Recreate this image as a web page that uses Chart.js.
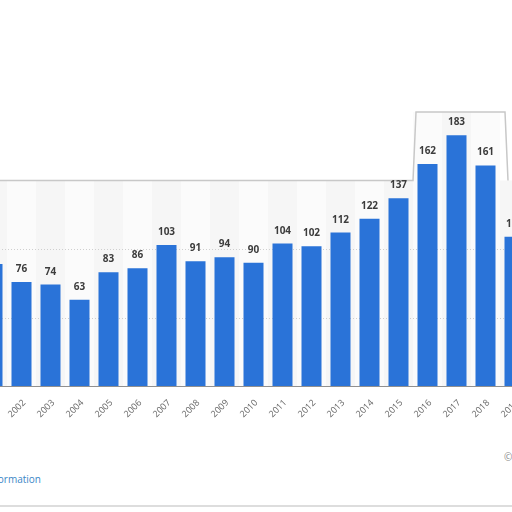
<!DOCTYPE html>
<html>
<head>
<meta charset="utf-8">
<script src="https://cdn.jsdelivr.net/npm/chart.js@4"></script>
<style>
  html, body { margin: 0; padding: 0; width: 512px; height: 512px; overflow: hidden; background: #fff; }
  #wrap { position: absolute; left: -22.5px; top: 0; width: 551px; height: 426px; }
  .note { position: absolute; font-family: "Open Sans", sans-serif; font-size: 10px; white-space: nowrap; }
  #info { left: -100px; width: 141px; text-align: right; top: 472px; color: #3b86c6; }
  #copy { left: 504px; top: 450px; color: #888; }
  #foot { position: absolute; left: 0; right: 0; top: 505px; height: 2px; background: #ddd; }
  .yr { position: absolute; width: 40px; height: 12px; line-height: 12px; text-align: right;
        font-family: "Open Sans", sans-serif; font-size: 9px; color: #666;
        transform-origin: 100% 50%; transform: rotate(-45deg); white-space: nowrap; }
</style>
</head>
<body>
<div id="wrap"><canvas id="myBarChart"></canvas></div>
<div class="note" id="info">Additional Information</div>
<div class="note" id="copy">© Statista 2021</div>
<div id="foot"></div>
<script>
const years = ["2001", "2002", "2003", "2004", "2005", "2006", "2007", "2008", "2009", "2010",
  "2011", "2012", "2013", "2014", "2015", "2016", "2017", "2018", "2019"];
const values = [89, 76, 74, 63, 83, 86, 103, 91, 94, 90, 104, 102, 112, 122, 137, 162, 183, 161, 109];
const gridTicks = [0, 50, 100, 150, 200];

// column stripes + box edge behind the bars, value labels on top
const backdrop = {
  id: "backdrop",
  beforeDatasetsDraw(chart) {
    const ctx = chart.ctx;
    const x = chart.scales.x, y = chart.scales.y;
    const w = x.getPixelForValue(1) - x.getPixelForValue(0);
    const yLow = y.getPixelForValue(150), yHigh = y.getPixelForValue(200), y0 = y.getPixelForValue(0);
    ctx.save();
    for (let i = 0; i < years.length; i++) {
      const top = (i >= 15 && i <= 17) ? yHigh : yLow;
      const cx = x.getPixelForValue(i);
      ctx.fillStyle = i % 2 ? "#fbfbfb" : "#f6f6f6";
      ctx.fillRect(cx - w / 2, top, w, y0 - top);
    }
    // box outline (top edge, stepping up over 2016-2018)
    const bx = x.getPixelForValue(15) - w / 2;
    const ex = x.getPixelForValue(17) + w / 2 + 5;
    ctx.strokeStyle = "#c8c8c8";
    ctx.lineWidth = 1.5;
    ctx.beginPath();
    ctx.moveTo(0, yLow);
    ctx.lineTo(bx, yLow);
    ctx.lineTo(bx + 3, yHigh);
    ctx.lineTo(ex, yHigh);
    ctx.lineTo(ex + 3, yLow);
    ctx.stroke();
    // dotted gridlines
    ctx.strokeStyle = "#cfcfcf";
    ctx.lineWidth = 1;
    ctx.setLineDash([1, 2]);
    [50, 100].forEach((v) => {
      const gy = Math.round(y.getPixelForValue(v)) + 0.5;
      ctx.beginPath();
      ctx.moveTo(0, gy);
      ctx.lineTo(chart.width, gy);
      ctx.stroke();
    });
    ctx.restore();
  },
  afterDatasetsDraw(chart) {
    const ctx = chart.ctx;
    const bars = chart.getDatasetMeta(0).data;
    ctx.save();
    ctx.font = "bold 10px 'Open Sans', sans-serif";
    ctx.fillStyle = "#3c3c3c";
    ctx.textAlign = "center";
    ctx.textBaseline = "alphabetic";
    bars.forEach((bar, i) => {
      ctx.fillText(values[i], bar.x, bar.y - 10);
    });
    ctx.restore();
  }
};

const chart = new Chart(document.getElementById("myBarChart"), {
  type: "bar",
  data: {
    labels: years,
    datasets: [
      {
        data: values,
        backgroundColor: "#2a73d8",
        categoryPercentage: 1,
        barPercentage: 0.69,
      },
    ],
  },
  options: {
    responsive: true,
    maintainAspectRatio: false,
    animation: false,
    layout: { padding: { top: 112, left: 0, right: 0, bottom: 0 } },
    plugins: { legend: { display: false }, tooltip: { enabled: false } },
    scales: {
      x: {
        grid: { display: false },
        border: { display: true, color: "#222", width: 1.5 },
        ticks: { display: false },
        afterFit: (s) => { s.height = 40; },
      },
      y: {
        min: 0,
        max: 200,
        afterBuildTicks: (s) => { s.ticks = gridTicks.map((v) => ({ value: v })); },
        grid: { display: false },
        border: { display: false },
        ticks: { display: false },
        afterFit: (s) => { s.width = 0; },
      },
    },
  },
  plugins: [backdrop],
});

// rotated year labels as html, placed from the x scale
const wrap = document.getElementById("wrap");
const xs = chart.scales.x, ys = chart.scales.y;
years.forEach((yr, i) => {
  const el = document.createElement("div");
  el.className = "yr";
  el.textContent = yr;
  const ax = xs.getPixelForValue(i) + 3;
  const ay = ys.getPixelForValue(0) + 15;
  el.style.left = (ax - 40) + "px";
  el.style.top = (ay - 6) + "px";
  wrap.appendChild(el);
});
</script>
</body>
</html>
